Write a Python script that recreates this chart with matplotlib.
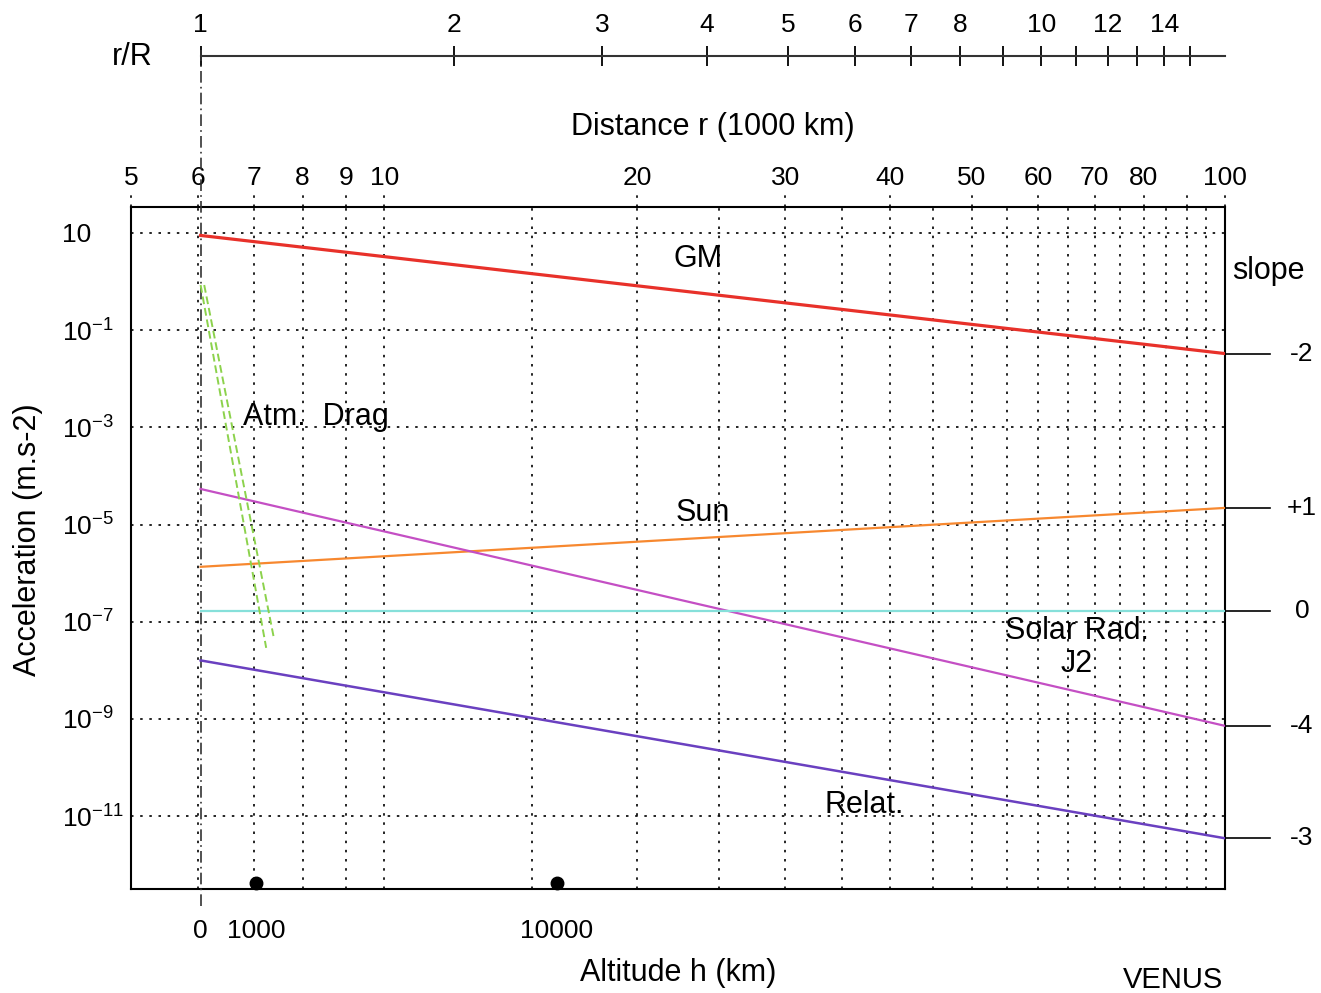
import numpy as np
from matplotlib import pyplot as plt
from matplotlib import transforms
from matplotlib.ticker import NullLocator

plt.rcParams['font.family'] = ['Liberation Sans', 'DejaVu Sans']
plt.rcParams['mathtext.fontset'] = 'custom'
plt.rcParams['mathtext.rm'] = 'Liberation Sans'

# Venus radius (1000 km)
R = 6.05

# distance r (1000 km) at both ends of the curves
r_ends = [R, 100.0]

# accelerations (m.s-2) read at the ends of each curve
gm = [8.9, 0.033]
sun = [1.35e-6, 2.2e-5]
j2 = [5.4e-5, 7.2e-10]
solar_rad = [1.65e-7, 1.65e-7]
relat = [1.6e-8, 3.5e-12]

# atmospheric drag band (two dashed edges)
drag_r1 = [6.05, 7.24]
drag_a1 = [0.85, 2.9e-8]
drag_r2 = [6.11, 7.40]
drag_a2 = [0.85, 4.3e-8]

slope_vals = [gm[1], sun[1], solar_rad[1], j2[1], relat[1]]
slope_labels = ['-2', '+1', '0', '-4', '-3']

x_major = [5, 6, 7, 8, 9, 10, 20, 30, 40, 50, 60, 70, 80, 90, 100]
x_major_labels = ['5', '6', '7', '8', '9', '10', '20', '30', '40', '50',
                  '60', '70', '80', '', '100']
x_minor = [15, 25, 35, 45, 55, 65, 75, 85, 95]

y_exps = [1, -1, -3, -5, -7, -9, -11]
y_labels = ['10'] + ['$\\mathregular{10^{%d}}$' % e for e in y_exps[1:]]

rR_ticks = list(range(1, 16))
rR_labels = ['1', '2', '3', '4', '5', '6', '7', '8', '', '10', '', '12', '', '14', '']

alt_km = [1000, 10000]
alt_labels = ['0', '1000', '10000']

W, H = 1321, 993
fig = plt.figure(figsize=(W / 100, H / 100), dpi=100)
ax = fig.add_axes([131 / W, 1 - 889 / H, 1094 / W, 682 / H])

def fpx(x, y):
    return x / W, 1 - y / H

dot = (0, (1.5, 4))

ax.plot(r_ends, gm, color='#e8312a', lw=2.3, zorder=5)
ax.plot(r_ends, sun, color='#f7882f', lw=1.6, zorder=5)
ax.plot(r_ends, j2, color='#c44fc4', lw=1.6, zorder=5)
ax.plot(r_ends, solar_rad, color='#86e0da', lw=1.6, zorder=5)
ax.plot(r_ends, relat, color='#6a40c0', lw=1.8, zorder=5)
ax.plot(drag_r1, drag_a1, color='#8cd24c', lw=1.4, ls=(0, (4, 2)), zorder=5)
ax.plot(drag_r2, drag_a2, color='#8cd24c', lw=1.4, ls=(0, (4, 2)), zorder=5)

ax.set_xscale('log')
ax.set_yscale('log')
ax.set_xlim(5, 100)
ax.set_ylim(10 ** -12.5, 10 ** 1.535)

ax.xaxis.tick_top()
ax.set_xticks(x_major, x_major_labels)
ax.set_xticks(x_minor, minor=True)
ax.xaxis.set_minor_formatter(plt.NullFormatter())
ax.tick_params(axis='x', which='both', length=0, labelsize=19, pad=12)
ax.set_yticks([10.0 ** e for e in y_exps], y_labels)
ax.yaxis.set_minor_locator(NullLocator())
ax.tick_params(axis='y', length=0, labelsize=19, pad=50)
for t in ax.get_yticklabels():
    t.set_horizontalalignment('left')

ax.grid(True, which='both', axis='x', color='k', lw=1.2, ls=dot)
ax.grid(True, which='major', axis='y', color='k', lw=1.2, ls=dot)
for s in ax.spines.values():
    s.set_linewidth(1.5)

xa = transforms.blended_transform_factory(ax.transData, ax.transAxes)
ay = transforms.blended_transform_factory(ax.transAxes, ax.transData)

# dotted tick extensions above the frame
for xv in x_major:
    ax.plot([xv, xv], [1.0, 1.02], transform=xa, color='k', lw=1.2, ls=dot,
            clip_on=False)

# surface line r = R
ax.plot([R, R], [-0.025, 1.23], transform=xa, color='#333333', lw=1.2,
        ls=(0, (7, 2.5, 1, 2.5)), clip_on=False, zorder=4)

# r/R axis
ax.plot([R, 100], [1.2214, 1.2214], transform=xa, color='#333333', lw=1.5,
        clip_on=False)
sec = ax.secondary_xaxis(1.2214, functions=(lambda x: x / R, lambda x: x * R))
sec.set_xticks(rR_ticks, rR_labels)
sec.xaxis.set_minor_locator(NullLocator())
sec.spines['top'].set_visible(False)
sec.tick_params(axis='x', direction='inout', length=15, width=1.3,
                labelsize=19, pad=6)

# altitude axis
alt_r = [R] + [R + a / 1000 for a in alt_km]
for xv, lab in zip(alt_r, alt_labels):
    ax.text(xv, -0.0616, lab, transform=xa, ha='center', va='center',
            fontsize=19)
ax.plot([R + a / 1000 for a in alt_km], [0.009] * len(alt_km), 'o', color='k',
        ms=9, transform=xa, clip_on=False)

# slope markers
for v, lab in zip(slope_vals, slope_labels):
    ax.plot([1.0, 1.041], [v, v], transform=ay, color='k', lw=1.2,
            clip_on=False)
    ax.text(1.0704, v, lab, transform=ay, ha='center', va='center',
            fontsize=19)

# curve labels
fig.text(*fpx(698, 259), 'GM', ha='center', va='center', fontsize=22)
fig.text(*fpx(243, 417), 'Atm.  Drag', ha='left', va='center', fontsize=22)
fig.text(*fpx(703, 513), 'Sun', ha='center', va='center', fontsize=22)
fig.text(*fpx(1077, 631), 'Solar Rad.', ha='center', va='center', fontsize=22)
fig.text(*fpx(1077, 664), 'J2', ha='center', va='center', fontsize=22)
fig.text(*fpx(864, 805), 'Relat.', ha='center', va='center', fontsize=22)

fig.text(*fpx(1268, 271), 'slope', ha='center', va='center', fontsize=22)
fig.text(*fpx(132, 57), 'r/R', ha='center', va='center', fontsize=22)
fig.text(*fpx(713, 127), 'Distance r (1000 km)', ha='center', va='center',
         fontsize=22)
fig.text(*fpx(678, 973), 'Altitude h (km)', ha='center', va='center',
         fontsize=22)
fig.text(*fpx(1173, 980), 'VENUS', ha='center', va='center', fontsize=21)
fig.text(*fpx(28, 540), 'Acceleration (m.s-2)', rotation=90, ha='center',
         va='center', fontsize=22)

fig.savefig('out.png', dpi=100)
